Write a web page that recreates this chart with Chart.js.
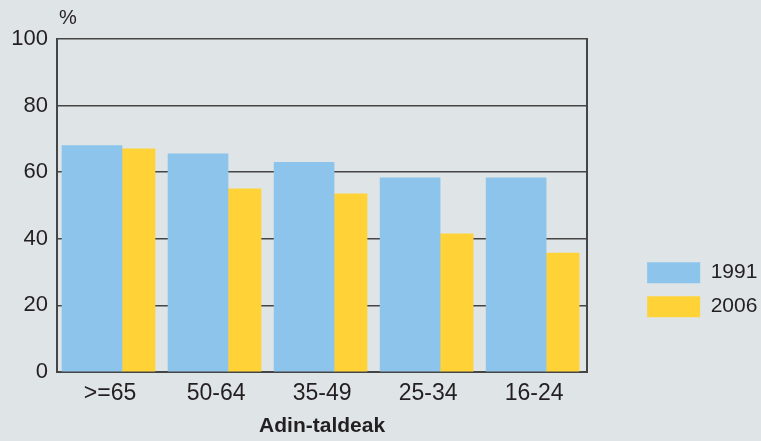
<!DOCTYPE html>
<html>
<head>
<meta charset="utf-8">
<script src="https://cdn.jsdelivr.net/npm/chart.js@4/dist/chart.umd.min.js"></script>
<style>
  body { margin: 0; background: #dfe5e7; }
  #wrap { position: relative; width: 761px; height: 441px; }
</style>
</head>
<body>
<div id="wrap"><canvas id="chart"></canvas></div>
<script>
// data
const ageGroups = ['>=65', '50-64', '35-49', '25-34', '16-24'];
const values1991 = [68, 65.5, 63, 58.3, 58.3];
const values2006 = [67, 55, 53.5, 41.5, 35.7];
const seriesNames = ['1991', '2006'];
const yTicks = [0, 20, 40, 60, 80, 100];

const textColor = '#231f20';
const lineColor = '#454545';
const fontFamily = '"Liberation Sans", Arial, Helvetica, sans-serif';

// "%" over the y axis
const percentLabel = {
    id: 'percentLabel',
    afterDraw(chart) {
        const {ctx, chartArea} = chart;
        ctx.save();
        ctx.fillStyle = textColor;
        ctx.font = '20px ' + fontFamily;
        ctx.textAlign = 'left';
        ctx.textBaseline = 'middle';
        ctx.fillText('%', chartArea.left + 2, 18);
        ctx.restore();
    }
};

const config = {
    type: 'bar',
    data: {
        labels: ageGroups,
        datasets: [{
            label: seriesNames[0],
            data: values1991.map((v, i) => ({x: i, y: v})),
            backgroundColor: '#8dc4eb',
            xAxisID: 'xg',
            barThickness: 60
        }, {
            label: seriesNames[1],
            data: values2006.map((v, i) => ({x: i, y: v})),
            backgroundColor: '#ffd338',
            xAxisID: 'xg',
            barThickness: 33
        }]
    },
    options: {
        responsive: true,
        maintainAspectRatio: false,
        animation: false,
        layout: { padding: { top: 39 } },
        scales: {
            x: {
                type: 'category',
                offset: true,
                grid: { display: false, drawTicks: false },
                border: { color: lineColor, width: 2 },
                ticks: { color: textColor, font: { family: fontFamily, size: 23 }, padding: 8 },
                title: {
                    display: true,
                    text: 'Adin-taldeak',
                    color: textColor,
                    font: { family: fontFamily, size: 21, weight: 'bold' },
                    padding: { top: 5, bottom: 2 }
                },
                afterFit: (s) => { s.height = 69; }
            },
            // hidden axis that places the bar groups (groups sit a bit left of the labels)
            xg: { type: 'linear', display: false, offset: false, min: -0.613, max: 4.387 },
            y: {
                min: 0,
                max: 100,
                afterBuildTicks: (s) => { s.ticks = yTicks.map(v => ({value: v})); },
                afterFit: (s) => { s.width = 57; },
                grid: { color: lineColor, lineWidth: 1.5, drawTicks: false },
                border: { color: lineColor, width: 2 },
                ticks: { color: textColor, font: { family: fontFamily, size: 22 }, padding: 9 }
            },
            y2: {
                position: 'right',
                min: 0,
                max: 100,
                grid: { display: false },
                border: { color: lineColor, width: 2 },
                ticks: { display: false },
                afterFit: (s) => { s.width = 47; }
            }
        },
        plugins: {
            legend: {
                position: 'right',
                align: 'center',
                title: { display: true, text: '', padding: { top: 85, bottom: 0 }, font: { size: 12 } },
                labels: {
                    boxWidth: 53,
                    boxHeight: 21,
                    padding: 13,
                    color: textColor,
                    font: { family: fontFamily, size: 21 }
                }
            },
            tooltip: { enabled: false }
        }
    },
    plugins: [percentLabel]
};

const chart = new Chart(document.getElementById('chart').getContext('2d'), config);
</script>
</body>
</html>
